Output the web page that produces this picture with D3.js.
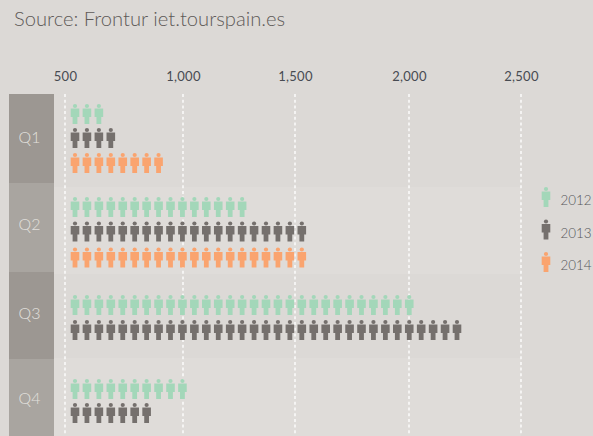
<!DOCTYPE html>
<html><head><meta charset="utf-8">
<script src="https://cdn.jsdelivr.net/npm/d3@7"></script>
<style>html,body{margin:0;padding:0;background:#dcd9d6;overflow:hidden}svg{display:block}text{font-family:Lato,sans-serif}</style>
</head><body><svg id="c" width="593" height="436"></svg>
<script>
const quarters=["Q1","Q2","Q3","Q4"];
const years=["2012","2013","2014"];
const iconsPer2012=[3,15,29,10];
const iconsPer2013=[4,20,33,7];
const iconsPer2014=[8,20,0,0];
const tickValues=[500,1000,1500,2000,2500];
const tickPixels=[65,183,295,409,521];
const colors=["#a3d7b9","#75706d","#fba46f"];
const root=d3.select("#c").append("g").attr("opacity",0.995);
const svg=root;
const x=d3.scaleLinear().domain(tickValues).range(tickPixels);
const iconX=d3.scaleLinear().domain([0,32]).range([75,457]);
const bandY=d3.scaleOrdinal().domain(quarters).range([94,183,272,359]);
const bandH=d3.scaleOrdinal().domain(quarters).range([89,89,87,77]);
const rowBg=[null,[187,87],null,[358,78]];
svg.append("rect").attr("width",593).attr("height",436).attr("fill","#dcd9d6");
svg.append("text").attr("x",14).attr("y",25.5).attr("font-size",20.2).attr("font-weight",300).attr("fill","#5e5a58").text("Source: Frontur iet.tourspain.es");
rowBg.forEach(r=>{if(r)svg.append("rect").attr("x",54).attr("y",r[0]).attr("width",467).attr("height",r[1]).attr("fill","#e0ddda")});
const qBase=[49,47,47,45];
quarters.forEach((q,i)=>{
 svg.append("rect").attr("x",9).attr("y",bandY(q)).attr("width",45).attr("height",bandH(q)).attr("fill",i%2?"#a9a5a0":"#9c9792");
 svg.append("text").attr("x",29.5).attr("y",bandY(q)+qBase[i]).attr("text-anchor","middle").attr("font-size",16).attr("font-weight",300).attr("fill","#e2e0dd").text(q);
});
const axis=d3.axisTop(x).tickValues(tickValues).tickSize(0).tickFormat(d3.format(","));
const ax=svg.append("g").attr("transform","translate(0,81)").call(axis);
ax.select(".domain").remove();
ax.selectAll("text").attr("font-size",13).attr("fill","#474b52").attr("font-family","Lato").attr("letter-spacing",0.3).attr("dy",0).attr("y",0);
svg.selectAll("line.g").data(tickValues).join("line").attr("class","g").attr("x1",d=>x(d)).attr("x2",d=>x(d)).attr("y1",94).attr("y2",436).attr("stroke","#fff").attr("stroke-width",1.4).attr("stroke-dasharray","3 2.7");
function person(g,cx,top,col){
 g.append("circle").attr("cx",cx).attr("cy",top+2).attr("r",2.1).attr("fill",col);
 g.append("path").attr("d",`M${cx-4.3},${top+4.6}h8.6v8.4h-1.9v7h-4.8v-7h-1.9z`).attr("fill",col);
}
const series=[iconsPer2012,iconsPer2013,iconsPer2014];
const rowTop=[[104,128,153],[197,221.5,247.5],[295,320,null],[379,403,null]];
series.forEach((s,si)=>s.forEach((n,qi)=>{
 const g=svg.append("g");
 d3.range(n).forEach(k=>person(g,iconX(k),rowTop[qi][si],colors[si]));
}));
const legY=d3.scalePoint().domain(years).range([199,264]);
years.forEach((y,i)=>{
 const g=svg.append("g");
 person(g,546,legY(y)-12,colors[i]);
 svg.append("text").attr("x",560.5).attr("y",legY(y)+6).attr("font-size",13.4).attr("font-weight",300).attr("fill","#55565a").text(y);
});
</script></body></html>
